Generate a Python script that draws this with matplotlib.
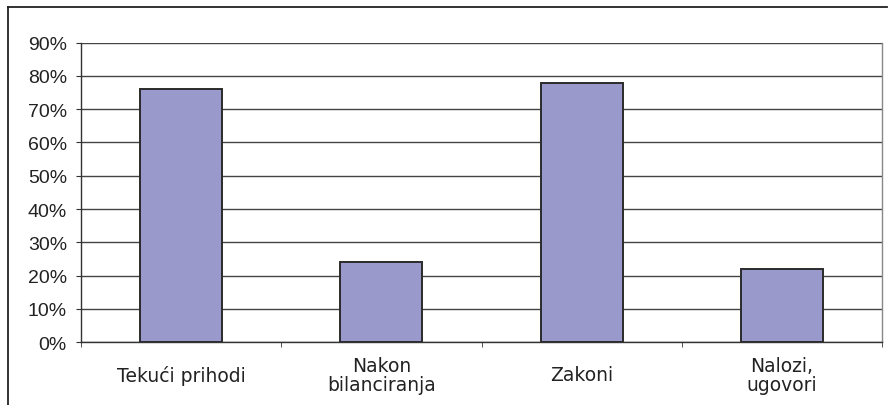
import matplotlib
matplotlib.use("Agg")
import matplotlib.pyplot as plt
from matplotlib.lines import Line2D

categories = ["Tekući prihodi", "Nakon\nbilanciranja", "Zakoni", "Nalozi,\nugovori"]
values = [76.0, 24.0, 77.8, 22.0]
yticks = [0, 10, 20, 30, 40, 50, 60, 70, 80, 90]

W, H = 891, 406
fig = plt.figure(figsize=(W / 100, H / 100), dpi=100)
ax = fig.add_axes([81 / W, 1 - 343.3 / H, (882 - 81) / W, (343.3 - 43.5) / H])

x = range(len(categories))
ax.bar(x, values, width=0.41, color="#9999cc", edgecolor="#2b2b2b", linewidth=1.4, zorder=3)

ax.set_xlim(-0.5, len(categories) - 0.5)
ax.set_ylim(0, 90)
ax.set_yticks(yticks)
ax.set_yticklabels([f"{v}%" for v in yticks], family="Liberation Sans", fontsize=14, color="#222222")
ax.yaxis.grid(True, color="#444444", linewidth=1.0, zorder=0)

# category labels centred, boundary ticks as minor ticks
ax.set_xticks(list(x))
ax.set_xticklabels(categories, fontsize=13.5, color="#222222", linespacing=1.05)
ax.set_xticks([i - 0.5 for i in range(len(categories) + 1)], minor=True)
ax.tick_params(axis="x", which="major", length=0, pad=23.5)
ax.tick_params(axis="x", which="minor", length=3.6, color="#333333", direction="out")
ax.tick_params(axis="y", length=3.6, color="#333333", direction="out", pad=6.5)
for lbl in ax.get_xticklabels():
    lbl.set_verticalalignment("center")

ax.spines["top"].set_visible(False)
ax.spines["left"].set_color("#333333")
ax.spines["bottom"].set_color("#333333")
ax.spines["right"].set_color("#888888")
for s in ax.spines.values():
    s.set_linewidth(1.0)

# outer chart frame (left and top edges visible)
fig.add_artist(Line2D([7.5 / W, 7.5 / W], [0, 1 - 8 / H], color="#222222", lw=1.3, transform=fig.transFigure))
fig.add_artist(Line2D([7.5 / W, 887 / W], [1 - 8 / H, 1 - 8 / H], color="#222222", lw=1.3, transform=fig.transFigure))

fig.savefig("out.png", dpi=100)
